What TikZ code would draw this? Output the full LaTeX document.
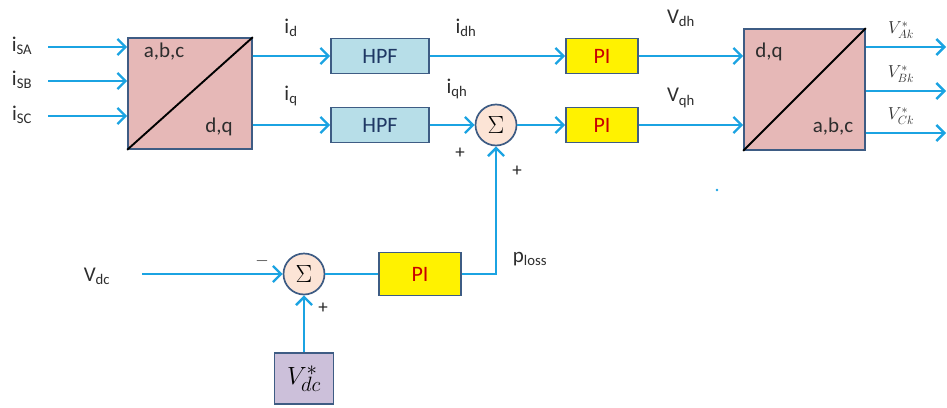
\documentclass[tikz,border=0pt]{standalone}
\usepackage{fontspec}
\setmainfont{Carlito}
\usetikzlibrary{arrows.meta}
\definecolor{lblue}{RGB}{27,163,226}
\definecolor{bord}{RGB}{62,92,132}
\definecolor{pinkf}{RGB}{230,184,183}
\definecolor{hpff}{RGB}{183,222,232}
\definecolor{hpft}{RGB}{31,56,100}
\definecolor{sumf}{RGB}{252,228,214}
\definecolor{lav}{RGB}{204,192,218}
\definecolor{pired}{RGB}{200,0,0}
\definecolor{txt}{RGB}{45,45,45}
\begin{document}
\begin{tikzpicture}[x=1pt,y=-1pt,
 box/.style={draw=bord,line width=1.7pt,inner sep=0pt},
 conv/.style={box,fill=pinkf},
 hpf/.style={box,fill=hpff,minimum width=98pt,minimum height=35pt,font=\fontsize{22}{22}\selectfont,text=hpft},
 pib/.style={box,fill=yellow,minimum width=72pt,minimum height=35pt,font=\fontsize{22}{22}\selectfont,text=pired},
 sumn/.style={circle,draw=bord,line width=1.7pt,fill=sumf,minimum size=41pt,inner sep=0pt,font=\fontsize{27}{27}\selectfont},
 sig/.style={line width=2.4pt,draw=lblue},
 arr/.style={sig,-{Straight Barb[length=8pt,width=16pt]}},
 lbl/.style={text=txt,font=\fontsize{21}{21}\selectfont,inner sep=0pt},
 vlbl/.style={text=txt,font=\fontsize{18}{18}\selectfont,inner sep=0pt},
 pm/.style={text=black!85,font=\fontsize{19}{19}\selectfont,inner sep=0pt},
]
\useasboundingbox (0,0) rectangle (947,407);

% abc -> dq block
\node[conv,minimum width=124pt,minimum height=111pt] (abc) at (190,93.5) {};
\draw[line width=1.9pt] (abc.south west) -- (abc.north east);
\node[lbl] (abct) at (164,52) {a,b,c};
\node[lbl] (dqt) at (219,127) {d,q};

% inputs
\coordinate (sa) at (48,47);
\coordinate (sb) at (48,81);
\coordinate (sc) at (48,116);
\draw[arr] (sa) -- (sa -| abc.west);
\draw[arr] (sb) -- (sb -| abc.west);
\draw[arr] (sc) -- (sc -| abc.west);
\node[lbl] (lsa) at (22,46) {i\textsubscript{SA}};
\node[lbl] (lsb) at (22,80) {i\textsubscript{SB}};
\node[lbl] (lsc) at (22,115) {i\textsubscript{SC}};

% HPF
\node[hpf] (hpf1) at (380,56) {HPF};
\node[hpf] (hpf2) at (380,125) {HPF};
\draw[arr] (hpf1.west -| abc.east) -- (hpf1.west);
\draw[arr] (hpf2.west -| abc.east) -- (hpf2.west);
\node[lbl] (lid) at (291,28) {i\textsubscript{d}};
\node[lbl] (liq) at (291,96) {i\textsubscript{q}};

% sum and PI
\node[sumn] (sum1) at (496,125) {$\Sigma$};
\node[pib] (pi1) at (602,56) {PI};
\node[pib] (pi2) at (602,125) {PI};
\draw[arr] (hpf1) -- (pi1);
\draw[arr] (hpf2) -- (sum1);
\draw[arr] (sum1) -- (pi2);
\node[lbl] (lidh) at (466,28) {i\textsubscript{dh}};
\node[lbl] (liqh) at (457,89) {i\textsubscript{qh}};
\node[pm] (p1) at (460,153) {+};
\node[pm] (p2) at (517,171) {+};

% dq -> abc block
\node[conv,minimum width=121pt,minimum height=121pt] (dq) at (804.5,89.5) {};
\draw[line width=1.9pt] (dq.south west) -- (dq.north east);
\node[lbl] (dqt2) at (769,52) {d,q};
\node[lbl] (abct2) at (833,127) {a,b,c};
\draw[arr] (pi1) -- (pi1 -| dq.west);
\draw[arr] (pi2) -- (pi2 -| dq.west);
\node[lbl] (lvdh) at (681,18) {V\textsubscript{dh}};
\node[lbl] (lvqh) at (681,98) {V\textsubscript{qh}};

% outputs
\coordinate (oa) at (946,47);
\coordinate (ob) at (946,91);
\coordinate (oc) at (946,133);
\draw[arr] (oa -| dq.east) -- (oa);
\draw[arr] (ob -| dq.east) -- (ob);
\draw[arr] (oc -| dq.east) -- (oc);
\node[vlbl] (lva) at (901,30) {$V^{*}_{Ak}$};
\node[vlbl] (lvb) at (901,74) {$V^{*}_{Bk}$};
\node[vlbl] (lvc) at (901,116) {$V^{*}_{Ck}$};

% stray dot
\fill[lblue] (717,190) circle (1.3pt);

% DC loop
\node[sumn] (sum2) at (304,274) {$\Sigma$};
\coordinate (vdcin) at (142,274);
\draw[arr] (vdcin) -- (sum2);
\node[lbl] (lvdc) at (97,276) {V\textsubscript{dc}};
\node[pm] (mn) at (262,261) {$-$};
\node[pm] (p3) at (323,308) {+};
\node[box,fill=yellow,minimum width=82pt,minimum height=43pt,font=\fontsize{22}{22}\selectfont,text=pired] (pi3) at (420,274) {PI};
\draw[sig] (sum2) -- (pi3);
\draw[arr] (pi3.east) -| (sum1.south);
\node[lbl] (lpl) at (530,259) {p\textsubscript{loss}};
\node[box,fill=lav,minimum width=59pt,minimum height=51pt,font=\fontsize{29}{29}\selectfont] (vref) at (304,378.5) {$V^{*}_{dc}$};
\draw[arr] (vref) -- (sum2);
\end{tikzpicture}
\end{document}
